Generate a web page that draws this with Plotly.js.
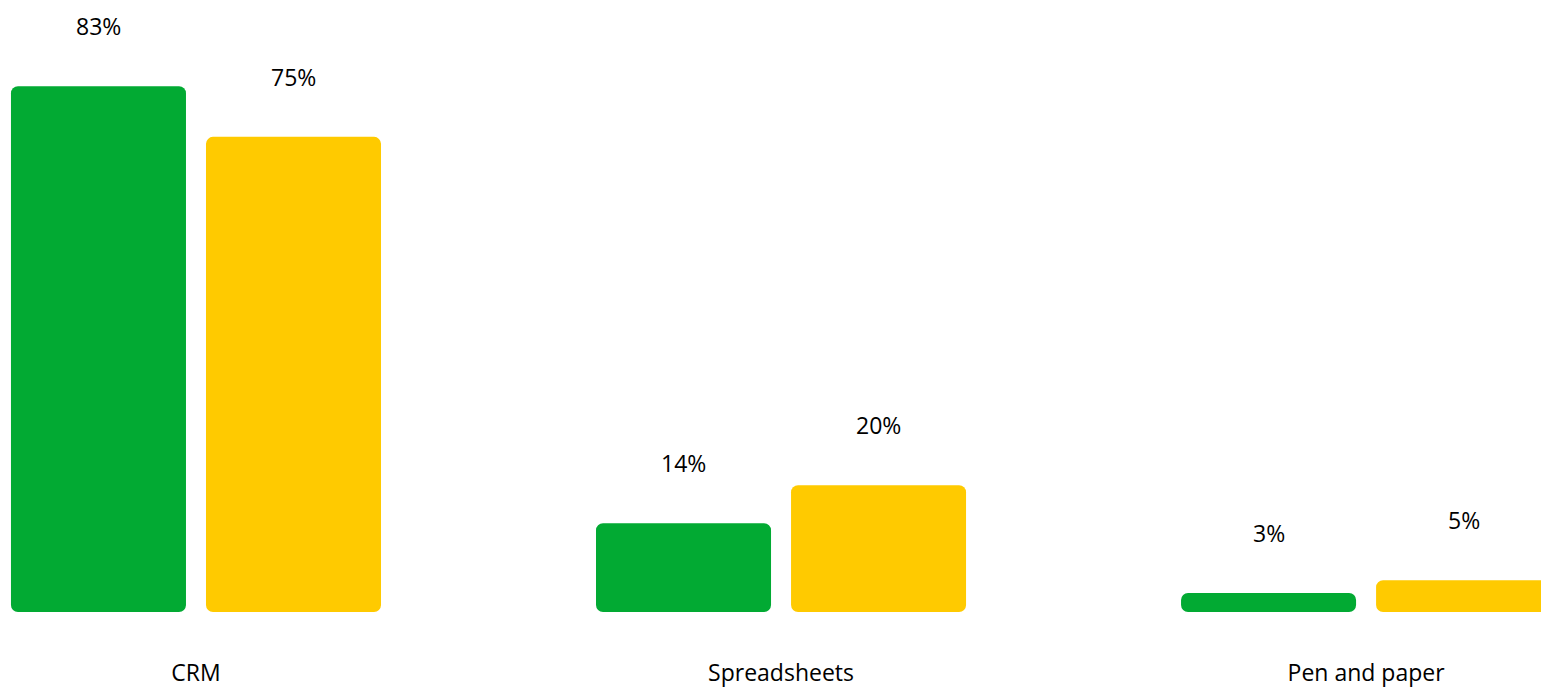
<!DOCTYPE html>
<html>
<head>
<meta charset="utf-8">
<script src="https://cdn.plot.ly/plotly-3.0.1.min.js"></script>
<style>html,body{margin:0;padding:0;background:#fff;}#chart{width:1541px;height:689px;}</style>
</head>
<body>
<div id="chart"></div>
<script>
// Data
const categories = ["CRM", "Spreadsheets", "Pen and paper"];
const seriesA = [83, 14, 3];   // green
const seriesB = [75, 20, 5];   // yellow
const labelsA = ["83%", "14%", "3%"];
const labelsB = ["75%", "20%", "5%"];

const GREEN = "#02aa33";
const YELLOW = "#ffca00";
const FONT = "Open Sans, Noto Sans, sans-serif";

// An explicit base makes Plotly round both ends of each bar.
function barTrace(vals, color) {
  return {
    type: "bar", x: categories, y: vals, base: vals.map(() => 0),
    marker: {color: color, cornerradius: 7, line: {width: 0}},
    hoverinfo: "skip", showlegend: false
  };
}
const traces = [barTrace(seriesA, GREEN), barTrace(seriesB, YELLOW)];

// Value labels above the bars
const annotations = [];
categories.forEach((c, i) => {
  annotations.push({x: c, y: seriesA[i], xref: "x", yref: "y", text: labelsA[i], showarrow: false,
    xshift: -97.5, yanchor: "bottom", yshift: 42, font: {family: FONT, size: 23, color: "#000"}});
  annotations.push({x: c, y: seriesB[i], xref: "x", yref: "y", text: labelsB[i], showarrow: false,
    xshift: 97.5, yanchor: "bottom", yshift: 42, font: {family: FONT, size: 23, color: "#000"}});
});

const layout = {
  width: 1541, height: 689,
  margin: {l: 0, r: 0, t: 0, b: 77, pad: 0},
  paper_bgcolor: "#fff", plot_bgcolor: "#fff",
  barmode: "group", bargap: 0.3333, bargroupgap: 0.1026,
  showlegend: false,
  xaxis: {type: "category", range: [-0.335, 2.299], showgrid: false, zeroline: false, showline: false,
    ticks: "", ticklabelstandoff: 45, tickfont: {family: FONT, size: 23, color: "#000"}, fixedrange: true},
  yaxis: {range: [0, 96.6], visible: false, showgrid: false, zeroline: false, fixedrange: true},
  annotations: annotations,
  font: {family: FONT, size: 23, color: "#000"}
};

Plotly.newPlot("chart", traces, layout, {displayModeBar: false, staticPlot: true});
</script>
</body>
</html>
